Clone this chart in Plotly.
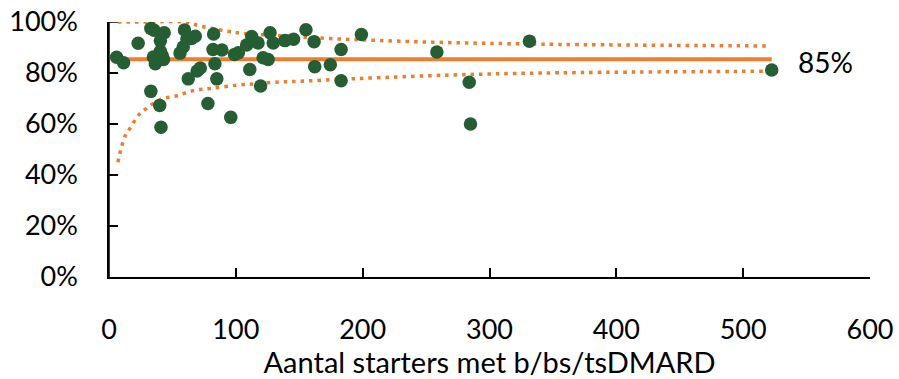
import plotly.graph_objects as go

# Data
starters = [6, 11.5, 24, 23, 33, 35.5, 43.5, 40.5, 35, 36.5, 40.5, 42, 43, 33, 40, 41,
            56, 58.5, 59.5, 61.5, 65, 68, 62.5, 69.5, 72, 78, 82.5, 82, 89, 83.5, 85,
            96, 99, 102, 108.5, 112.5, 117.5, 111, 119.5, 121.5, 125.5, 127, 129.5,
            138.7, 145.5, 155.3, 161.7, 162.2, 174.5, 183, 183, 199, 258.5, 284, 285,
            331.5, 522.5]
score = [86.2, 84, 100.2, 91.7, 97.5, 96.8, 95.8, 92.6, 86.3, 83.6, 88.5, 86.8, 85.3,
         72.8, 67.3, 58.7, 87.8, 90.2, 96.9, 93.2, 93.5, 94.4, 77.7, 80.8, 82, 68, 95.3,
         89.2, 89, 83.6, 77.7, 62.6, 87.3, 87.9, 91, 94.3, 91.8, 81.4, 74.9, 86, 85.3,
         95.8, 91.8, 92.7, 93.2, 97, 92.3, 82.5, 83.2, 89.2, 77, 95.1, 88.2, 76.4, 60,
         92.5, 81.2]

mean_x = [7, 522.5]
mean_y = [85.4, 85.4]
mean_label = "85%"

upper_x = [7, 30, 60, 72, 93, 106, 132, 174, 255, 342, 520]
upper_y = [100, 100, 100, 98.4, 96.4, 95.5, 94.7, 93.5, 92.1, 91.3, 90.6]
lower_x = [7, 12.5, 16.4, 23.7, 29, 40, 53.7, 66.4, 79.5, 100.6, 116.4, 134.8, 147.9,
           195, 269, 342, 520]
lower_y = [45, 55.1, 58.2, 63.7, 65.9, 69.5, 71.1, 73.1, 73.9, 75.2, 75.8, 76.5, 76.7,
           77.8, 79.2, 80.0, 80.7]

x_ticks = [0, 100, 200, 300, 400, 500, 600]
y_ticks = [0, 20, 40, 60, 80, 100]
y_ticktext = ["0%", "20%", "40%", "60%", "80%", "100%"]
x_title = "Aantal starters met b/bs/tsDMARD"

ORANGE = "#ED7D31"
GREEN = "#265E34"
FONT = "Lato"

fig = go.Figure()
for lx, ly in [(upper_x, upper_y), (lower_x, lower_y)]:
    fig.add_trace(go.Scatter(x=lx, y=ly, mode="lines", line_shape="spline",
                             line=dict(color=ORANGE, width=3.5, dash="3.5px,5px"),
                             hoverinfo="skip", cliponaxis=False))
fig.add_trace(go.Scatter(x=mean_x, y=mean_y, mode="lines",
                         line=dict(color=ORANGE, width=4), cliponaxis=False))
fig.add_trace(go.Scatter(x=starters, y=score, mode="markers",
                         marker=dict(color=GREEN, size=13.5), cliponaxis=False))

fig.add_annotation(x=542, y=84.5, text=mean_label, showarrow=False, xanchor="left",
                   yanchor="middle", font=dict(family=FONT, size=28, color="black"))

# explicit left axis line and inside tick marks (the axis' own line was not rendering)
fig.add_shape(type="line", xref="x domain", yref="y", x0=0, x1=0,
              y0=y_ticks[0], y1=y_ticks[-1], line=dict(color="black", width=1.5),
              layer="above")
for yt in y_ticks[1:]:
    fig.add_shape(type="line", xref="x domain", yref="y", x0=0, x1=9 / 761,
                  y0=yt, y1=yt, line=dict(color="black", width=1.5), layer="above")

fig.update_layout(
    width=899, height=379,
    margin=dict(l=109, r=29, t=22, b=102),
    paper_bgcolor="white", plot_bgcolor="white",
    showlegend=False,
    font=dict(family=FONT, size=27, color="black"),
)
fig.update_xaxes(range=[0, 600], tickvals=x_ticks, ticks="inside", ticklen=9,
                 tickcolor="black", tickwidth=1.5, showline=True, linecolor="black",
                 linewidth=1.5, showgrid=False, zeroline=False, ticklabelstandoff=28,
                 automargin=False, ticklabeloverflow="allow",
                 title=dict(text=x_title, standoff=10, font=dict(size=29)))
fig.update_yaxes(range=[0, 100], tickvals=y_ticks, ticktext=y_ticktext, ticks="inside",
                 ticklen=9, tickcolor="black", tickwidth=1.5, showline=True,
                 linecolor="black", linewidth=1.5, showgrid=False, zeroline=False,
                 ticklabelstandoff=24, automargin=False, ticklabeloverflow="allow",
                 layer="above traces")

fig.write_html("out.html", config={"displayModeBar": False},
               post_script="document.body.style.margin='0';"
                           "document.body.style.overflow='hidden';")
